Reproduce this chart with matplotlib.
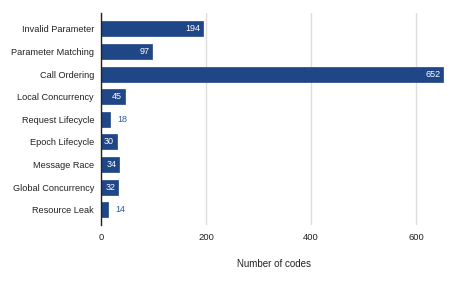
import matplotlib
matplotlib.use("Agg")
import matplotlib.pyplot as plt

categories = ["Invalid Parameter", "Parameter Matching", "Call Ordering", "Local Concurrency",
              "Request Lifecycle", "Epoch Lifecycle", "Message Race", "Global Concurrency",
              "Resource Leak"]
values = [194, 97, 652, 45, 18, 30, 34, 32, 14]
xticks = [0, 200, 400, 600]

plt.rcParams['font.family'] = ['Liberation Sans', 'DejaVu Sans']
fig = plt.figure(figsize=(4.57, 2.83), dpi=100)
ax = fig.add_axes([0.221, 0.205, 0.758, 0.749])
color = "#1f4788"
y = list(range(len(categories)))
ax.barh(y, values, height=0.66, color=color, edgecolor=color, linewidth=0.5, zorder=3)
for yi, v in zip(y, values):
    if v >= 25:
        ax.text(v - 5, yi, str(v), ha="right", va="center", color="white", fontsize=6.5,
                zorder=4)
    else:
        ax.text(v + 14, yi, str(v), ha="left", va="center", color="#2f5a9e", fontsize=6.5,
                zorder=4)
ax.set_yticks(y)
ax.set_yticklabels(categories, fontsize=6.6, color="#222222")
ax.set_ylim(8.67, -0.7)
ax.set_xlim(0, 660)
ax.set_xticks(xticks)
ax.set_xticklabels([str(t) for t in xticks], fontsize=6.8, color="#222222")
ax.tick_params(length=0, pad=5)
ax.tick_params(axis="x", pad=6)
ax.grid(axis="x", color="#dddddd", linewidth=1, zorder=0)
for s in ["top", "right", "bottom"]:
    ax.spines[s].set_visible(False)
ax.spines["left"].set_color("#222222")
ax.spines["left"].set_linewidth(1)
ax.spines["left"].set_zorder(5)
ax.set_xlabel("Number of codes", fontsize=7, color="#222222", labelpad=12)
fig.savefig("out.png", dpi=100)
